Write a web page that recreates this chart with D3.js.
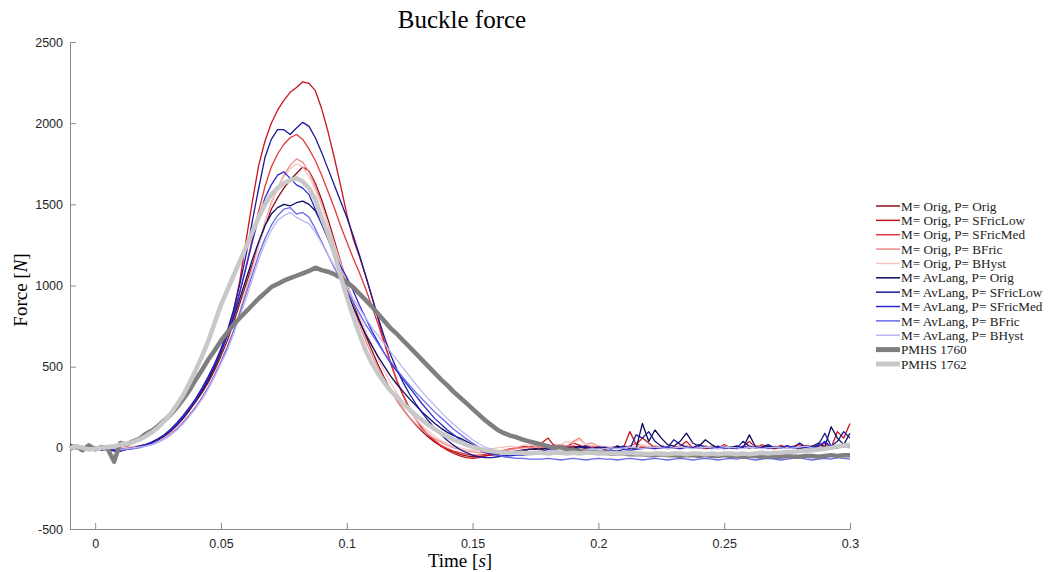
<!DOCTYPE html>
<html>
<head>
<meta charset="utf-8">
<script src="https://cdn.jsdelivr.net/npm/d3@7"></script>
<style>
    html, body { margin: 0; padding: 0; background: #fff; }
    svg { display: block; }
</style>
</head>
<body>
<svg id="chart"></svg>
<script>
// time axis (s), shared by every series
const time = [-0.01, -0.0075, -0.005, -0.0025, 0, 0.0025, 0.005, 0.0075, 0.01, 0.0125,
    0.015, 0.0175, 0.02, 0.0225, 0.025, 0.0275, 0.03, 0.0325, 0.035, 0.0375,
    0.04, 0.0425, 0.045, 0.0475, 0.05, 0.0525, 0.055, 0.0575, 0.06, 0.0625,
    0.065, 0.0675, 0.07, 0.0725, 0.075, 0.0775, 0.08, 0.0825, 0.085, 0.0875,
    0.09, 0.0925, 0.095, 0.0975, 0.1, 0.1025, 0.105, 0.1075, 0.11, 0.1125,
    0.115, 0.1175, 0.12, 0.1225, 0.125, 0.1275, 0.13, 0.1325, 0.135, 0.1375,
    0.14, 0.1425, 0.145, 0.1475, 0.15, 0.1525, 0.155, 0.1575, 0.16, 0.1625,
    0.165, 0.1675, 0.17, 0.1725, 0.175, 0.1775, 0.18, 0.1825, 0.185, 0.1875,
    0.19, 0.1925, 0.195, 0.1975, 0.2, 0.2025, 0.205, 0.2075, 0.21, 0.2125,
    0.215, 0.2175, 0.22, 0.2225, 0.225, 0.2275, 0.23, 0.2325, 0.235, 0.2375,
    0.24, 0.2425, 0.245, 0.2475, 0.25, 0.2525, 0.255, 0.2575, 0.26, 0.2625,
    0.265, 0.2675, 0.27, 0.2725, 0.275, 0.2775, 0.28, 0.2825, 0.285, 0.2875,
    0.29, 0.2925, 0.295, 0.2975, 0.3];

// buckle force (N)
const origOrig = [0, 5, -5, 0, -10, -5, -15, -10, -5, 0, 5, 10, 20, 30, 50, 75, 105, 140, 185, 235, 285, 340, 405, 480, 565,
    660, 770, 890, 1010, 1130, 1250, 1370, 1470, 1540, 1600, 1650, 1690, 1730, 1705, 1630, 1530, 1410, 1280, 1150, 1020, 900, 790, 690, 600, 510,
    430, 355, 290, 235, 185, 140, 100, 65, 35, 10, -10, -25, -40, -50, -55, -55, -50, -45, -40, -30, -25, -20, -15, -10, -10,
    -5, 0, 5, -5, 0, 10, 5, -5, 0, 5, -10, 0, 10, 5, 0, -5, 5, 0, -5, 10, 5, 0, -5, 5, 0,
    5, -5, 0, 5, 10, 0, -5, 5, 0, 10, 5, 0, -5, 5, 10, 0, 5, 15, 5, 0, 10, 5, 0, 10, 5];
const origSFricLow = [0, -5, 5, 0, -5, -10, -5, -15, -10, 0, 5, 10, 15, 30, 45, 70, 100, 140, 180, 230, 290, 350, 420, 500, 590,
    700, 840, 1030, 1280, 1520, 1740, 1890, 2000, 2080, 2140, 2190, 2220, 2255, 2245, 2200, 2090, 1950, 1790, 1620, 1440, 1290, 1180, 1060, 930, 790,
    650, 520, 410, 320, 240, 175, 120, 75, 40, 10, -15, -35, -50, -60, -65, -60, -50, -40, -30, -20, -10, 0, 10, 5, 20,
    30, 60, 10, 20, 5, 30, 15, 0, 10, 5, 0, -5, 10, 0, 100, 20, 60, 30, 0, 10, -5, 5, 10, 40, 0,
    5, 10, 0, -5, 20, 0, 10, 5, 40, 0, 10, 5, -5, 15, 0, 10, 20, 0, 10, 5, 30, 0, 100, 60, 150];
const origSFricMed = [5, 0, -5, 5, -5, -10, -10, -5, 0, 5, 5, 10, 20, 35, 55, 80, 110, 145, 190, 240, 295, 355, 425, 505, 595,
    700, 820, 960, 1120, 1290, 1460, 1610, 1730, 1810, 1870, 1910, 1930, 1900, 1840, 1770, 1680, 1580, 1480, 1370, 1270, 1170, 1080, 980, 870, 760,
    640, 520, 410, 320, 240, 175, 120, 80, 45, 15, -5, -20, -30, -40, -45, -45, -40, -35, -25, -15, -5, 0, 5, 0, 10,
    5, 0, 20, 5, 10, 0, 5, 15, 0, 10, 5, 0, -5, 5, 10, 30, 5, 0, 10, 5, -5, 5, 0, 10, 5,
    0, 10, 5, 0, 15, 5, 0, 10, 5, 0, 20, 5, 0, 10, 5, 0, 5, 10, 0, 15, 5, 0, 10, 20, 10];
const origBFric = [0, 5, 0, -5, -5, 0, -10, -5, 0, 5, 5, 10, 15, 25, 40, 60, 90, 120, 160, 205, 255, 310, 375, 450, 530,
    620, 720, 840, 970, 1110, 1250, 1390, 1510, 1600, 1680, 1740, 1780, 1760, 1700, 1610, 1500, 1380, 1250, 1120, 990, 870, 760, 660, 570, 490,
    420, 350, 290, 235, 185, 145, 110, 80, 55, 35, 15, 0, -10, -20, -25, -30, -30, -25, -20, -15, -10, -5, 0, 5, 0,
    5, 10, 0, 20, 10, 40, 60, 20, 30, 10, 0, 5, 0, 10, 5, 0, 10, 5, 0, -5, 5, 0, 10, 5, 0,
    5, 0, 10, 5, 0, 5, 10, 0, 5, 15, 5, 0, 10, 5, 0, 5, 10, 0, 5, 10, 0, 5, 10, 5, 10];
const origBHyst = [5, 0, 5, 0, -5, 0, -5, 0, 5, 5, 10, 10, 15, 25, 40, 60, 85, 115, 150, 195, 245, 300, 365, 440, 520,
    610, 710, 830, 960, 1100, 1240, 1380, 1500, 1600, 1670, 1720, 1750, 1730, 1670, 1590, 1490, 1380, 1260, 1140, 1020, 910, 810, 720, 630, 550,
    470, 400, 335, 275, 220, 175, 135, 100, 70, 45, 25, 10, 0, -10, -15, -15, -10, -5, 0, 5, 10, 5, 15, 20, 10,
    15, 5, 10, 20, 40, 30, 50, 20, 10, 15, 5, 0, 10, 5, 0, 10, 20, 5, 0, 10, 5, 0, 5, 10, 0,
    5, 10, 0, 5, 10, 5, 0, 10, 15, 5, 0, 10, 5, 0, 5, 10, 0, 5, 10, 5, 0, 10, 15, 5, 10];
const avOrig = [20, 10, -10, 20, 0, 10, -10, 5, -20, -10, -5, 5, 15, 30, 50, 75, 105, 140, 185, 235, 290, 350, 420, 500, 590,
    690, 800, 920, 1040, 1160, 1270, 1370, 1440, 1480, 1500, 1490, 1510, 1520, 1500, 1460, 1380, 1290, 1190, 1080, 970, 870, 780, 700, 630, 560,
    500, 440, 390, 345, 300, 260, 220, 185, 150, 120, 95, 75, 60, 40, 20, 0, -15, -25, -30, -30, -25, -20, -15, -10, -5,
    -10, 0, -5, 5, 0, -5, 10, 0, -5, 5, 0, -5, 10, 0, 5, -5, 150, 40, 110, 60, 20, 10, 40, 90, 30,
    10, 50, 20, 0, -5, 5, 10, 0, 80, 5, 0, 10, 5, 0, 10, 5, -5, 5, 10, 30, 5, 130, 60, 20, 90];
const avSFricLow = [10, -5, 5, -10, 0, -15, -5, -20, -15, -5, 0, 10, 20, 35, 55, 80, 115, 155, 200, 250, 305, 370, 440, 520, 610,
    720, 850, 1010, 1190, 1400, 1600, 1790, 1900, 1960, 1960, 1930, 1970, 2005, 1980, 1910, 1820, 1720, 1620, 1520, 1420, 1310, 1190, 1060, 930, 800,
    680, 570, 480, 400, 330, 270, 215, 165, 120, 80, 45, 15, -10, -30, -45, -55, -60, -60, -55, -50, -45, -40, -35, -30, -25,
    -20, -10, -5, 0, 5, -5, 0, 10, -5, 0, 5, -5, 0, 10, -5, 80, 60, 100, 40, 10, 0, 50, 20, 5, 0,
    20, 5, 0, 10, -5, 5, 0, 40, 10, 0, 5, 20, 0, 5, 10, 0, 30, 5, 0, 20, 90, 10, 40, 100, 60];
const avSFricMed = [15, -5, 10, -10, 5, -10, 0, -15, -20, -10, 0, 5, 15, 30, 50, 75, 105, 145, 190, 240, 295, 360, 430, 510, 600,
    700, 820, 960, 1110, 1270, 1420, 1540, 1620, 1680, 1700, 1660, 1620, 1600, 1560, 1470, 1380, 1290, 1200, 1120, 1050, 970, 880, 800, 720, 650,
    580, 520, 470, 420, 370, 320, 270, 225, 180, 145, 110, 80, 50, 25, 0, -15, -30, -40, -45, -50, -50, -45, -45, -40, -40,
    -35, -40, -30, -35, -30, -35, -25, -30, -20, -25, -20, -15, -20, -10, -15, -10, -5, 0, -5, 0, 5, 0, -5, 5, 0,
    0, 5, -5, 0, 5, 0, -5, 10, 0, 5, 0, -5, 5, 0, 10, 5, 0, 5, -5, 10, 40, 5, 0, 20, 10];
const avBFric = [10, 0, 5, -10, 0, -5, -10, -5, -15, -10, -5, 0, 10, 20, 35, 55, 80, 115, 155, 200, 250, 310, 375, 450, 530,
    620, 720, 830, 950, 1070, 1190, 1290, 1370, 1430, 1470, 1480, 1440, 1450, 1420, 1350, 1270, 1190, 1110, 1040, 970, 900, 830, 760, 700, 640,
    580, 530, 480, 430, 385, 340, 300, 260, 220, 185, 150, 115, 85, 55, 30, 5, -15, -30, -45, -55, -60, -65, -65, -70, -70,
    -70, -65, -70, -75, -70, -65, -70, -75, -70, -65, -70, -70, -75, -70, -65, -70, -75, -70, -65, -70, -75, -70, -65, -70, -75,
    -70, -65, -70, -75, -70, -65, -70, -60, -70, -75, -70, -65, -70, -75, -70, -65, -60, -70, -75, -70, -65, -70, -60, -65, -70];
const avBHyst = [5, 0, -5, 5, 0, -10, -5, 0, -10, -5, 0, 5, 10, 20, 35, 55, 80, 110, 150, 195, 245, 300, 365, 440, 520,
    600, 700, 810, 920, 1040, 1160, 1260, 1340, 1400, 1430, 1450, 1420, 1400, 1380, 1330, 1260, 1190, 1120, 1050, 990, 920, 860, 800, 740, 690,
    640, 590, 540, 490, 440, 390, 345, 300, 260, 220, 180, 145, 110, 80, 50, 25, 5, -10, -20, -25, -30, -30, -35, -30, -30,
    -25, -20, -15, -20, -15, -10, -15, -10, -5, -10, -5, 0, -5, 0, 5, 0, -5, 0, 5, 0, -5, 0, 5, 0, -5,
    0, 5, 0, -5, 0, 5, 0, -5, 5, 0, -5, 0, 5, 0, -5, 0, 5, 10, 0, -5, 0, 5, 0, 5, 0];
const pmhs1760 = [-5, 10, -15, 15, -10, 5, -5, -85, 30, 20, 40, 55, 85, 105, 135, 170, 205, 250, 300, 355, 420, 480, 545, 600, 660,
    710, 760, 800, 840, 880, 920, 955, 990, 1010, 1030, 1045, 1060, 1075, 1090, 1110, 1095, 1085, 1070, 1050, 1020, 990, 950, 910, 870, 825,
    780, 735, 700, 660, 620, 580, 540, 500, 460, 420, 385, 345, 310, 275, 240, 205, 170, 140, 110, 90, 75, 65, 50, 40, 30,
    20, 10, 0, 5, -10, -15, -20, -25, -25, -30, -30, -35, -35, -35, -40, -40, -40, -45, -45, -40, -45, -45, -50, -45, -45,
    -50, -45, -50, -50, -45, -50, -50, -55, -50, -50, -55, -50, -55, -55, -50, -55, -55, -50, -50, -55, -50, -45, -50, -45, -45];
const pmhs1762 = [0, 10, 0, -10, -5, 0, 5, 10, 20, 25, 35, 50, 70, 95, 125, 165, 210, 265, 325, 400, 480, 565, 660, 770, 880,
    970, 1060, 1150, 1240, 1330, 1420, 1500, 1560, 1600, 1630, 1650, 1660, 1640, 1600, 1530, 1420, 1320, 1200, 1060, 930, 810, 700, 600, 520, 455,
    400, 350, 310, 270, 235, 200, 170, 140, 115, 90, 70, 50, 35, 20, 5, -5, -15, -20, -25, -30, -30, -30, -30, -35, -30,
    -30, -35, -30, -30, -35, -30, -35, -30, -30, -35, -35, -30, -35, -35, -30, -35, -35, -40, -35, -35, -40, -35, -35, -40, -35,
    -35, -40, -35, -40, -35, -35, -40, -35, -40, -35, -30, -35, -30, -30, -25, -25, -20, -20, -15, -10, -5, 0, 10, 15, 20];

const seriesNames = ['M= Orig, P= Orig', 'M= Orig, P= SFricLow', 'M= Orig, P= SFricMed', 'M= Orig, P= BFric', 'M= Orig, P= BHyst',
    'M= AvLang, P= Orig', 'M= AvLang, P= SFricLow', 'M= AvLang, P= SFricMed', 'M= AvLang, P= BFric', 'M= AvLang, P= BHyst',
    'PMHS 1760', 'PMHS 1762'];
const seriesValues = [origOrig, origSFricLow, origSFricMed, origBFric, origBHyst,
    avOrig, avSFricLow, avSFricMed, avBFric, avBHyst, pmhs1760, pmhs1762];
const seriesColors = ['#8e0f14', '#c8141c', '#e0383c', '#ee8a88', '#f6c4c4',
    '#0c0c5e', '#181898', '#2a2ad2', '#6868e8', '#b8b8f2', '#7f7f7f', '#c8c8c8'];

const xTicks = [0, 0.05, 0.1, 0.15, 0.2, 0.25, 0.3];
const yTicks = [-500, 0, 500, 1000, 1500, 2000, 2500];

const width = 1048;
const height = 572;

const render = () => {
    const svg = d3.select('#chart')
        .attr('width', width)
        .attr('height', height)
        .attr('viewBox', [0, 0, width, height]);

    const x = d3.scaleLinear().domain([-0.01, 0.3]).range([70, 850]);
    const y = d3.scaleLinear().domain([-500, 2500]).range([529, 42]);

    // axes, MATLAB style: grey, ticks pointing in, no box
    const xAxis = svg.append('g')
        .attr('transform', `translate(0,${y(-500)})`)
        .call(d3.axisBottom(x).tickValues(xTicks).tickFormat(d => String(d))
            .tickSizeInner(-6).tickSizeOuter(0).tickPadding(10));
    const yAxis = svg.append('g')
        .attr('transform', `translate(${x(-0.01)},0)`)
        .call(d3.axisLeft(y).tickValues(yTicks).tickFormat(d => String(d))
            .tickSizeInner(-6).tickSizeOuter(0).tickPadding(7));

    [xAxis, yAxis].forEach(a => {
        a.select('.domain').attr('stroke', '#8a8a8a');
        a.selectAll('.tick line').attr('stroke', '#8a8a8a');
        a.selectAll('.tick text')
            .attr('fill', '#262626')
            .style('font', '12.5px "Liberation Sans", Arial, sans-serif');
    });

    const line = d3.line()
        .x((d, i) => x(time[i]))
        .y(d => y(d));

    const plot = svg.append('g');
    seriesValues.forEach((vals, k) => {
        plot.append('path')
            .datum(vals)
            .attr('fill', 'none')
            .attr('stroke', seriesColors[k])
            .attr('stroke-width', k >= 10 ? 4.5 : 1.3)
            .attr('stroke-linejoin', 'round')
            .attr('d', line);
    });

    // titles
    const serif = '"Liberation Serif", "DejaVu Serif", serif';
    svg.append('text')
        .attr('x', 462).attr('y', 28)
        .attr('text-anchor', 'middle')
        .style('font', `25px ${serif}`)
        .text('Buckle force');

    const xl = svg.append('text')
        .attr('x', 460).attr('y', 567)
        .attr('text-anchor', 'middle')
        .style('font', `19px ${serif}`);
    xl.append('tspan').text('Time [');
    xl.append('tspan').style('font-style', 'italic').text('s');
    xl.append('tspan').text(']');

    const yl = svg.append('text')
        .attr('transform', 'translate(27,290) rotate(-90)')
        .attr('text-anchor', 'middle')
        .style('font', `19px ${serif}`);
    yl.append('tspan').text('Force [');
    yl.append('tspan').style('font-style', 'italic').text('N');
    yl.append('tspan').text(']');

    // legend
    const legend = svg.append('g')
        .attr('transform', 'translate(876,206)');
    const item = legend.selectAll('g')
        .data(seriesNames)
        .join('g')
        .attr('transform', (d, i) => `translate(0,${i * 14.36})`);
    item.append('line')
        .attr('x1', 0).attr('x2', 24)
        .attr('stroke', (d, i) => seriesColors[i])
        .attr('stroke-width', (d, i) => i >= 10 ? 5 : 1.5);
    item.append('text')
        .attr('x', 25).attr('dy', '0.35em')
        .attr('fill', '#222')
        .style('font', `13.2px ${serif}`)
        .text(d => d);
};

render();
</script>
</body>
</html>
